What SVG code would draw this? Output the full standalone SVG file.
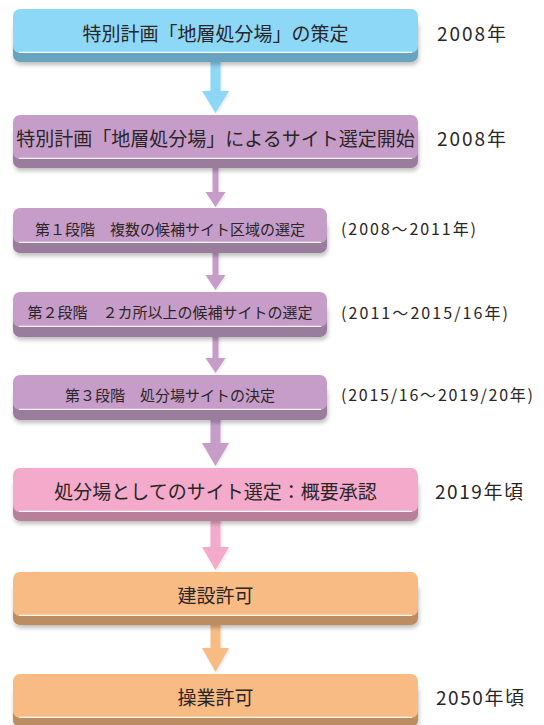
<svg xmlns="http://www.w3.org/2000/svg" width="544" height="725" viewBox="0 0 544 725">
<defs>
<filter id="sh" x="-5%" y="-20%" width="110%" height="160%">
<feDropShadow dx="1" dy="3" stdDeviation="2" flood-color="#000" flood-opacity="0.25"/>
</filter>
<filter id="ash" x="-50%" y="-10%" width="200%" height="120%">
<feDropShadow dx="1" dy="1" stdDeviation="1.5" flood-color="#000" flood-opacity="0.12"/>
</filter>
</defs>
<style>
.t{font-family:"Noto Sans CJK JP","Noto Sans",sans-serif;fill:#2a2526;dominant-baseline:central}
.big{font-size:19px;text-anchor:middle}
.sm{font-size:15px;text-anchor:middle}
.yr{font-family:"Noto Sans CJK JP","Noto Sans",sans-serif;fill:#2a2526;dominant-baseline:central;font-size:19px}
.yrs{font-family:"Noto Sans CJK JP","Noto Sans",sans-serif;fill:#2a2526;dominant-baseline:central;font-size:16px}
.side{filter:url(#sh)}
.hl{stroke:#fff;stroke-width:1.2;opacity:0.9}
.bf{fill:#8dd7f7}.bs{fill:#68a4bf}
.pf{fill:#c69dc9}.ps{fill:#9a7b9c}
.kf{fill:#f4aacb}.ks{fill:#b87f9b}
.of{fill:#f9bb84}.os{fill:#bc8d64}
.arr{filter:url(#ash)}
</style>

<g id="connectors">
<path class="arr bf" d="M210.5,53 H220.5 V91 H229 L215.5,113 L202,91 H210.5 Z"/>
<path class="arr pf" d="M212.5,159 H218.5 V192 H225.5 L215.5,207 L205.5,192 H212.5 Z"/>
<path class="arr pf" d="M212.5,243 H218.5 V275 H225.5 L215.5,290 L205.5,275 H212.5 Z"/>
<path class="arr pf" d="M212.5,327 H218.5 V358 H225.5 L215.5,373 L205.5,358 H212.5 Z"/>
<path class="arr pf" d="M210.5,410 H220.5 V443 H229 L215.5,466 L202,443 H210.5 Z"/>
<path class="arr kf" d="M210.5,512 H220.5 V547 H229 L215.5,570 L202,547 H210.5 Z"/>
<path class="arr of" d="M210.5,616 H220.5 V648 H229 L215.5,672 L202,648 H210.5 Z"/>
</g>

<g id="node1">
<rect class="side bs" x="13" y="18" width="405" height="44" rx="7"/>
<rect class="bf" x="13" y="9" width="405" height="44" rx="7"/>
<line class="hl" x1="19" y1="52.4" x2="412" y2="52.4"/>
<text class="t big" x="215.5" y="32">特別計画「地層処分場」の策定</text>
</g>
<text id="year1" class="yr" x="437" y="32" textLength="69" lengthAdjust="spacing">2008年</text>

<g id="node2">
<rect class="side ps" x="13" y="124" width="405" height="44" rx="7"/>
<rect class="pf" x="13" y="115" width="405" height="44" rx="7"/>
<line class="hl" x1="19" y1="158.4" x2="412" y2="158.4"/>
<text class="t big" x="215.5" y="137">特別計画「地層処分場」によるサイト選定開始</text>
</g>
<text id="year2" class="yr" x="437" y="137" textLength="69" lengthAdjust="spacing">2008年</text>

<g id="node3">
<rect class="side ps" x="13" y="218" width="314" height="35" rx="7"/>
<rect class="pf" x="13" y="208" width="314" height="35" rx="7"/>
<line class="hl" x1="19" y1="242.4" x2="321" y2="242.4"/>
<text class="t sm" x="170" y="228">第１段階　複数の候補サイト区域の選定</text>
</g>
<text id="year3" class="yrs" x="341" y="228" textLength="135" lengthAdjust="spacing">(2008〜2011年)</text>

<g id="node4">
<rect class="side ps" x="13" y="302" width="314" height="35" rx="7"/>
<rect class="pf" x="13" y="292" width="314" height="35" rx="7"/>
<line class="hl" x1="19" y1="326.4" x2="321" y2="326.4"/>
<text class="t sm" x="170" y="311.5">第２段階　２カ所以上の候補サイトの選定</text>
</g>
<text id="year4" class="yrs" x="341" y="311.5" textLength="167" lengthAdjust="spacing">(2011〜2015/16年)</text>

<g id="node5">
<rect class="side ps" x="13" y="385" width="314" height="35" rx="7"/>
<rect class="pf" x="13" y="375" width="314" height="35" rx="7"/>
<line class="hl" x1="19" y1="409.4" x2="321" y2="409.4"/>
<text class="t sm" x="170" y="394">第３段階　処分場サイトの決定</text>
</g>
<text id="year5" class="yrs" x="341" y="394" textLength="192" lengthAdjust="spacing">(2015/16〜2019/20年)</text>

<g id="node6">
<rect class="side ks" x="13" y="477" width="405" height="44" rx="7"/>
<rect class="kf" x="13" y="468" width="405" height="44" rx="7"/>
<line class="hl" x1="19" y1="511.4" x2="412" y2="511.4"/>
<text class="t big" x="215.5" y="490.5">処分場としてのサイト選定：概要承認</text>
</g>
<text id="year6" class="yr" x="435" y="490.5" textLength="88" lengthAdjust="spacing">2019年頃</text>

<g id="node7">
<rect class="side os" x="13" y="581" width="405" height="44" rx="7"/>
<rect class="of" x="13" y="572" width="405" height="44" rx="7"/>
<line class="hl" x1="19" y1="615.4" x2="412" y2="615.4"/>
<text class="t big" x="215.5" y="594">建設許可</text>
</g>

<g id="node8">
<rect class="side os" x="13" y="683" width="405" height="44" rx="7"/>
<rect class="of" x="13" y="674" width="405" height="44" rx="7"/>
<line class="hl" x1="19" y1="717.4" x2="412" y2="717.4"/>
<text class="t big" x="215.5" y="696.5">操業許可</text>
</g>
<text id="year8" class="yr" x="436" y="696.5" textLength="88" lengthAdjust="spacing">2050年頃</text>
</svg>
